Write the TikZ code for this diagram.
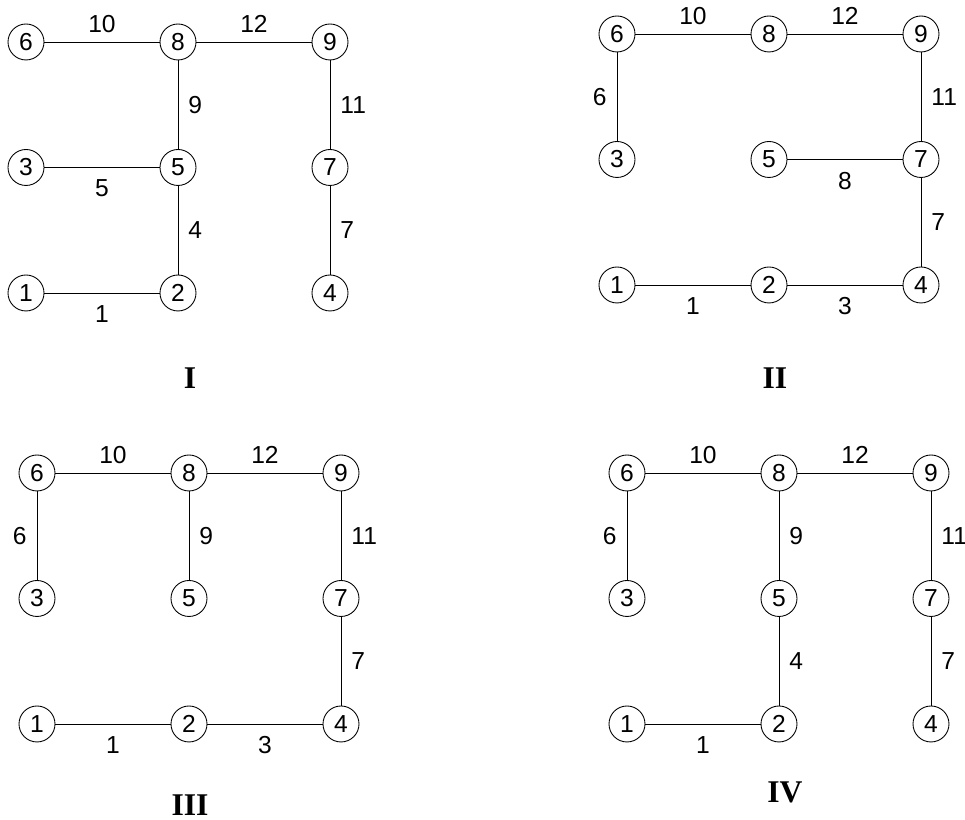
\documentclass[tikz,border=0pt]{standalone}
\usepackage{fontspec}
\setmainfont{Liberation Sans}
\newfontfamily\romanfont{Liberation Serif}
\usepackage{tikz}

\tikzset{
  vtx/.style={draw,circle,line width=0.5pt,minimum size=0.72cm,inner sep=0pt,
    font=\fontsize{14}{16}\selectfont},
  wt/.style={inner sep=0pt,font=\fontsize{14}{16}\selectfont},
  wabove/.style={above=0.18cm},
  wbelow/.style={below=0.24cm},
  wright/.style={right=0.2cm},
  wleft/.style={left=0.2cm},
  treename/.style={font=\romanfont\bfseries\fontsize{18}{20}\selectfont},
}

% the 3x3 grid of vertices of one tree, names #1 1 .. #1 9
\newcommand{\treegrid}[1]{%
  \foreach \n/\i/\j in {1/0/0,2/1/0,4/2/0,3/0/1,5/1/1,7/2/1,6/0/2,8/1/2,9/2/2}
    \node[vtx] (#1\n) at (\i*152,\j*125.5) {\n};
}

\begin{document}
\begin{tikzpicture}[x=0.02cm,y=0.02cm,line width=0.5pt]
  \useasboundingbox (0,0) rectangle (965,820);

  % Tree I
  \begin{scope}[shift={(26,527)}]
    \treegrid{a}
    \foreach \u/\v/\w/\s in {6/8/10/wabove,8/9/12/wabove,8/5/9/wright,9/7/11/wright,
                             3/5/5/wbelow,5/2/4/wright,7/4/7/wright,1/2/1/wbelow}
      \draw (a\u) -- node[wt,\s] {\w} (a\v);
  \end{scope}
  \node[treename] (nameI) at (190,442) {I};

  % Tree II
  \begin{scope}[shift={(617,535)}]
    \treegrid{b}
    \foreach \u/\v/\w/\s in {6/8/10/wabove,8/9/12/wabove,6/3/6/wleft,9/7/11/wright,
                             5/7/8/wbelow,7/4/7/wright,1/2/1/wbelow,2/4/3/wbelow}
      \draw (b\u) -- node[wt,\s] {\w} (b\v);
  \end{scope}
  \node[treename] (nameII) at (775,442) {II};

  % Tree III
  \begin{scope}[shift={(37,96)}]
    \treegrid{c}
    \foreach \u/\v/\w/\s in {6/8/10/wabove,8/9/12/wabove,6/3/6/wleft,8/5/9/wright,
                             9/7/11/wright,7/4/7/wright,1/2/1/wbelow,2/4/3/wbelow}
      \draw (c\u) -- node[wt,\s] {\w} (c\v);
  \end{scope}
  \node[treename] (nameIII) at (190,15) {III};

  % Tree IV
  \begin{scope}[shift={(627,96)}]
    \treegrid{d}
    \foreach \u/\v/\w/\s in {6/8/10/wabove,8/9/12/wabove,6/3/6/wleft,8/5/9/wright,
                             9/7/11/wright,5/2/4/wright,7/4/7/wright,1/2/1/wbelow}
      \draw (d\u) -- node[wt,\s] {\w} (d\v);
  \end{scope}
  \node[treename] (nameIV) at (785,28) {IV};
\end{tikzpicture}
\end{document}
